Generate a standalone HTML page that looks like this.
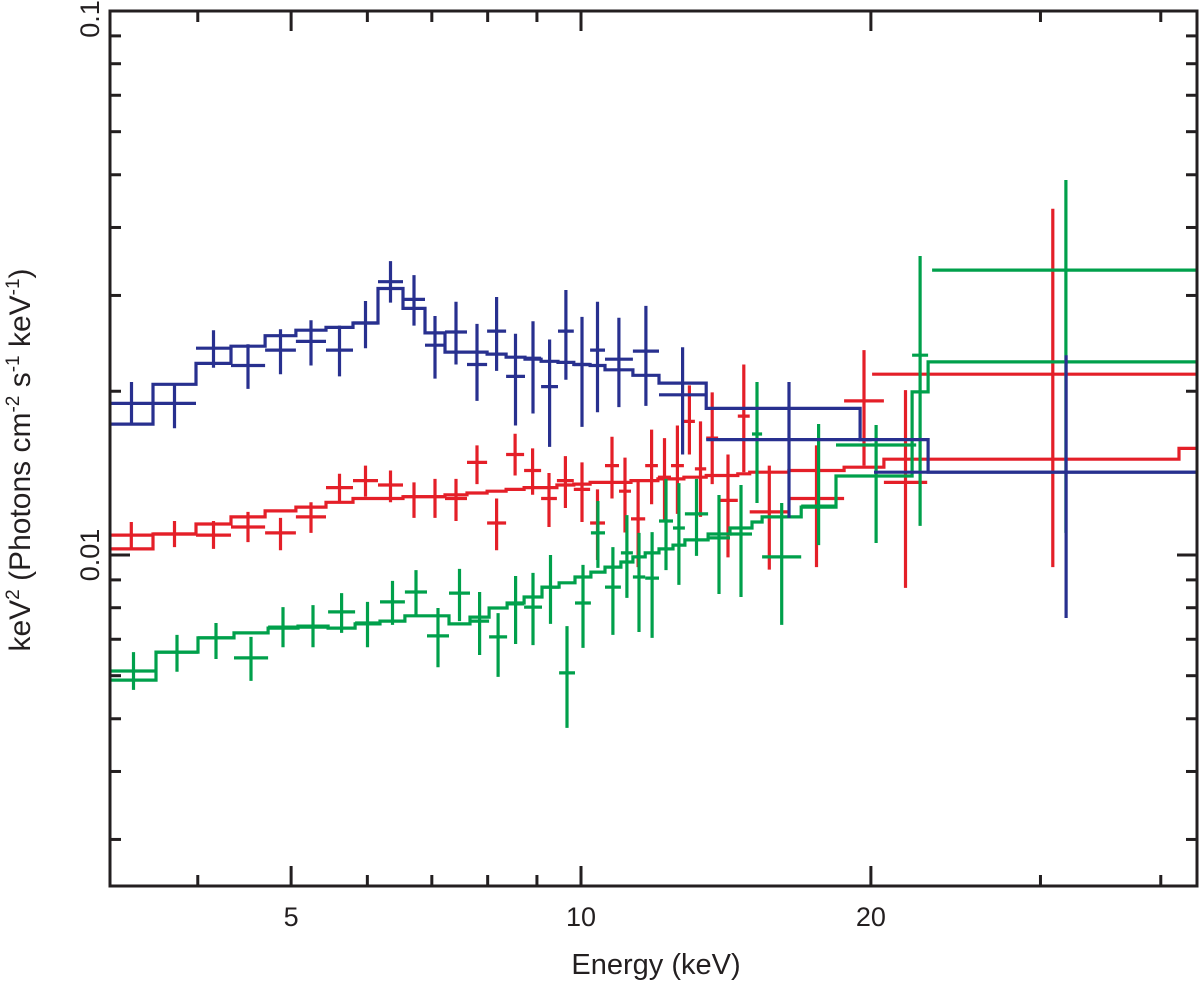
<!DOCTYPE html>
<html><head><meta charset="utf-8">
<style>
html,body{margin:0;padding:0;background:#fff;}
svg{display:block;font-family:"Liberation Sans",Arial,sans-serif;}
</style></head>
<body>
<svg id="chart" width="1200" height="981" viewBox="0 0 1200 981" xmlns="http://www.w3.org/2000/svg">
<defs><clipPath id="plotclip"><rect x="110" y="11" width="1087" height="875"/></clipPath></defs>
<g id="marks" clip-path="url(#plotclip)"></g>
<g id="axes"></g>
<text x="656" y="974" font-size="29" text-anchor="middle" fill="#231f20">Energy (keV)</text>
<text transform="translate(30,460) rotate(-90)" font-size="30" text-anchor="middle" fill="#231f20">keV<tspan font-size="19" dy="-11">2</tspan><tspan dy="11"> (Photons cm</tspan><tspan font-size="19" dy="-11">-2</tspan><tspan dy="11"> s</tspan><tspan font-size="19" dy="-11">-1</tspan><tspan dy="11"> keV</tspan><tspan font-size="19" dy="-11">-1</tspan><tspan dy="11">)</tspan></text>
</svg>
<script>
// ---- axis data ----
const xTickMajor = [5, 10, 20];
const xTickLabels = ["5", "10", "20"];
const xTickMinor = [4, 6, 7, 8, 9, 30, 40];
const yTickMajor = [0.1, 0.01];
const yTickLabels = ["0.1", "0.01"];
const yTickMinor = [0.09, 0.08, 0.07, 0.06, 0.05, 0.04, 0.03, 0.02, 0.009, 0.008, 0.007, 0.006, 0.005, 0.004, 0.003];

// ---- blue series ----
const blueLo = [3.243,3.594,3.983,4.331,4.698,5.058,5.435,5.798,6.154,6.533,6.887,7.224,7.614,7.989,8.36,8.746,9.09,9.465,9.83,10.22,10.59,11.32,12.05,13.49,20.15];
const blueHi = [3.594,3.983,4.331,4.698,5.058,5.435,5.798,6.154,6.533,6.887,7.224,7.614,7.989,8.36,8.746,9.09,9.465,9.83,10.22,10.59,11.32,12.05,13.49,20.04,50.5];
const blueVal = [0.0190,0.0190,0.0240,0.0223,0.0238,0.0247,0.0238,0.0267,0.0318,0.0295,0.0243,0.0257,0.0224,0.0258,0.0213,0.0230,0.0204,0.0258,0.0224,0.0238,0.0229,0.0237,0.0197,0.0163,0.0142];
const blueErrHi = [0.0208,0.0207,0.0259,0.0244,0.0260,0.0270,0.0264,0.0293,0.0347,0.0327,0.0275,0.0292,0.0266,0.0298,0.0255,0.0269,0.0249,0.0307,0.0274,0.0292,0.0273,0.0287,0.0241,0.0208,0.0233];
const blueErrLo = [0.0173,0.0171,0.0221,0.0202,0.0215,0.0223,0.0213,0.0240,0.0291,0.0264,0.0211,0.0224,0.0192,0.0218,0.0173,0.0182,0.0158,0.0210,0.0172,0.0183,0.0187,0.0188,0.0153,0.0117,0.00766];
const blueModelEdges = [3.243,3.594,3.983,4.331,4.698,5.058,5.435,5.798,6.154,6.533,6.887,7.224,7.614,7.989,8.36,8.746,9.09,9.465,9.83,10.22,10.59,11.32,12.05,13.49,19.49,22.93,43.7];
const blueModelVal = [0.0174,0.0206,0.0225,0.0242,0.0253,0.0259,0.0262,0.0267,0.0309,0.0284,0.0256,0.0236,0.0236,0.0234,0.0231,0.0229,0.0227,0.0226,0.0224,0.0223,0.0219,0.0214,0.0207,0.0186,0.0163,0.0142];

// ---- red series ----
const redLo = [3.24,3.594,3.983,4.331,4.698,5.058,5.435,5.798,6.154,6.533,6.887,7.224,7.614,7.989,8.36,8.727,9.09,9.44,9.83,10.22,10.59,10.95,11.27,11.66,12.02,12.40,12.79,13.13,13.49,13.88,14.55,14.97,16.44,18.76,20.63,20.06];
const redHi = [3.594,3.983,4.331,4.698,5.058,5.435,5.798,6.154,6.533,6.887,7.224,7.614,7.989,8.36,8.727,9.09,9.44,9.83,10.22,10.59,10.95,11.27,11.66,12.02,12.40,12.79,13.13,13.49,13.88,14.55,14.97,16.44,18.76,20.63,22.88,47.6];
const redVal = [0.01088,0.01093,0.01088,0.01126,0.01098,0.01175,0.0133,0.0137,0.01345,0.0128,0.0128,0.0127,0.0148,0.01145,0.0153,0.0143,0.0127,0.0137,0.0132,0.01145,0.0146,0.0131,0.01165,0.0146,0.0139,0.0146,0.0176,0.0144,0.0164,0.0126,0.0180,0.0120,0.0127,0.0192,0.0136,0.0215];
const redErrHi = [0.0115,0.01155,0.01155,0.0120,0.0117,0.0125,0.0141,0.0146,0.0143,0.0136,0.0138,0.0138,0.0159,0.0127,0.0167,0.0157,0.01415,0.0152,0.0148,0.0132,0.0165,0.0151,0.0137,0.0170,0.0164,0.0173,0.0205,0.0176,0.0199,0.0153,0.0224,0.0146,0.0159,0.0238,0.0201,0.0433];
const redErrLo = [0.0103,0.01034,0.01026,0.01056,0.0102,0.01098,0.0125,0.0128,0.0125,0.0117,0.0117,0.01155,0.0135,0.0102,0.0140,0.0129,0.01126,0.0122,0.0115,0.00979,0.0127,0.0110,0.0095,0.0124,0.0116,0.0119,0.0153,0.01175,0.0135,0.0099,0.0142,0.0094,0.0095,0.0146,0.0087,0.0095];
const redModelEdges = [3.24,3.594,3.983,4.331,4.698,5.058,5.435,5.798,6.154,6.533,6.887,7.224,7.614,7.989,8.36,8.727,9.09,9.44,9.83,10.22,10.59,10.95,11.27,11.66,12.02,12.40,12.79,13.13,13.49,13.88,14.55,14.97,16.44,18.76,20.63,41.78,43.7];
const redModelVal = [0.01026,0.01093,0.0114,0.01175,0.01205,0.01225,0.0125,0.0127,0.0127,0.0128,0.0128,0.0129,0.0130,0.0131,0.0132,0.0133,0.0133,0.01345,0.0135,0.0136,0.0136,0.0136,0.0137,0.0137,0.0138,0.0138,0.0139,0.0139,0.0140,0.0140,0.0141,0.0142,0.0143,0.0145,0.0150,0.0157];

// ---- green series ----
const greenLo = [3.25,3.62,4.002,4.362,4.732,5.083,5.462,5.826,6.184,6.564,6.92,7.294,7.669,8.028,8.381,8.727,9.11,9.489,9.858,10.24,10.59,11.00,11.32,11.66,12.05,12.46,12.82,13.55,14.28,15.05,15.42,16.93,18.40,22.07,23.15];
const greenHi = [3.62,4.002,4.362,4.732,5.083,5.462,5.826,6.184,6.564,6.92,7.294,7.669,8.028,8.381,8.727,9.11,9.489,9.858,10.24,10.59,11.00,11.32,11.66,12.05,12.46,12.82,13.55,14.28,15.05,15.42,16.93,18.40,22.29,22.93,43.9];
const greenVal = [0.00612,0.00663,0.00704,0.00647,0.00737,0.00737,0.00786,0.0075,0.0082,0.00855,0.0071,0.00851,0.00756,0.00707,0.00813,0.00802,0.00873,0.00607,0.00816,0.01098,0.00873,0.01009,0.00911,0.00907,0.01155,0.01121,0.0119,0.01075,0.01093,0.01669,0.00992,0.0123,0.01593,0.0233,0.0334];
const greenErrHi = [0.00663,0.00713,0.0075,0.00707,0.00802,0.00809,0.00851,0.0082,0.00896,0.00938,0.00799,0.00943,0.00855,0.00782,0.00915,0.00927,0.0100,0.0074,0.00959,0.01257,0.01034,0.01184,0.01098,0.01102,0.0138,0.01356,0.0138,0.01289,0.01345,0.0208,0.01246,0.01741,0.01734,0.03545,0.0489];
const greenErrLo = [0.00565,0.0061,0.00644,0.00587,0.00677,0.00677,0.00719,0.00677,0.00744,0.00776,0.00622,0.00756,0.00655,0.00597,0.00686,0.00683,0.00747,0.00481,0.00675,0.00947,0.00713,0.00834,0.00722,0.00704,0.00938,0.00881,0.00996,0.00848,0.00837,0.01246,0.00744,0.01043,0.01052,0.01131,0.01098];
const greenModelEdges = [3.25,3.62,4.002,4.362,4.732,5.083,5.462,5.826,6.184,6.564,6.92,7.294,7.669,8.028,8.381,8.727,9.11,9.489,9.858,10.24,10.59,11.00,11.32,11.66,12.05,12.46,12.82,13.55,14.28,15.05,15.42,16.93,18.40,22.07,22.93,43.7];
const greenModelVal = [0.00589,0.00663,0.00704,0.00719,0.00734,0.0074,0.00734,0.00747,0.00756,0.00773,0.00773,0.00747,0.00769,0.00799,0.00816,0.00837,0.00873,0.00889,0.00911,0.0093,0.0095,0.00971,0.00992,0.01009,0.01026,0.01043,0.01066,0.01093,0.01121,0.0115,0.01175,0.01225,0.01397,0.01994,0.02264];

// ---- axis functions ----
const PL = 110, PT = 11, PR = 1197, PB = 886;
const X10 = 581, XDEC = 963;
const Y01 = 11, YDEC = 544;
function xScale(e) { return X10 + XDEC * Math.log10(e / 10); }
function yScale(v) { return Y01 + YDEC * Math.log10(0.1 / v); }

const NS = "http://www.w3.org/2000/svg";
const marks = document.getElementById("marks");
const axes = document.getElementById("axes");
function mk(tag, attrs, parent) {
  const el = document.createElementNS(NS, tag);
  for (const k in attrs) el.setAttribute(k, attrs[k]);
  parent.appendChild(el);
  return el;
}

function drawSeries(name, color, lo, hi, val, eHi, eLo, mEdges, mVal) {
  const g = mk("g", {}, marks);
  
  
  let d = "";
  for (let i = 0; i < mVal.length; i++) {
    const x0 = xScale(mEdges[i]), x1 = xScale(mEdges[i + 1]), y = yScale(mVal[i]);
    d += (i === 0 ? "M" : "L") + x0.toFixed(1) + "," + y.toFixed(1) + "L" + x1.toFixed(1) + "," + y.toFixed(1);
  }
  const model = mk("path", { d: d, fill: "none", stroke: color, "stroke-width": 3.2, "stroke-linejoin": "miter" }, g);
  
  
  for (let i = 0; i < val.length; i++) {
    const xc = xScale(Math.sqrt(lo[i] * hi[i]));
    const p = mk("path", {
      d: "M" + xScale(lo[i]).toFixed(1) + "," + yScale(val[i]).toFixed(1) + "H" + xScale(hi[i]).toFixed(1) +
         "M" + xc.toFixed(1) + "," + yScale(eHi[i]).toFixed(1) + "V" + yScale(eLo[i]).toFixed(1),
      stroke: color, "stroke-width": 3.2, fill: "none"
    }, g);
    
    
  }
}
drawSeries("red", "#e41f28", redLo, redHi, redVal, redErrHi, redErrLo, redModelEdges, redModelVal);
drawSeries("green", "#00a04b", greenLo, greenHi, greenVal, greenErrHi, greenErrLo, greenModelEdges, greenModelVal);
drawSeries("blue", "#28308f", blueLo, blueHi, blueVal, blueErrHi, blueErrLo, blueModelEdges, blueModelVal);

// ---- frame & ticks ----
const frame = mk("rect", { x: PL, y: PT, width: PR - PL, height: PB - PT, fill: "none", stroke: "#231f20", "stroke-width": 3 }, axes);


function tick(x1, y1, x2, y2, nm) {
  const t = mk("line", { x1: x1, y1: y1, x2: x2, y2: y2, stroke: "#231f20", "stroke-width": 3 }, axes);
  
  
}
xTickMajor.forEach(function (e) { const x = xScale(e); tick(x, PB, x, PB - 20, 'x-major-tick'); tick(x, PT, x, PT + 20, 'x-top-major-tick'); });
xTickMinor.forEach(function (e) { const x = xScale(e); tick(x, PB, x, PB - 11, 'x-minor-tick'); tick(x, PT, x, PT + 11, 'x-top-minor-tick'); });
yTickMajor.forEach(function (v) { const y = yScale(v); tick(PL, y, PL + 20, y, 'y-major-tick'); tick(PR, y, PR - 20, y, 'y-right-major-tick'); });
yTickMinor.forEach(function (v) { const y = yScale(v); tick(PL, y, PL + 11, y, 'y-minor-tick'); tick(PR, y, PR - 11, y, 'y-right-minor-tick'); });
xTickMajor.forEach(function (e, i) {
  const t = mk("text", { x: xScale(e), y: PB + 40, "font-size": 27, "text-anchor": "middle", fill: "#231f20" }, axes);
  t.textContent = xTickLabels[i];
  
  
});
yTickMajor.forEach(function (v, i) {
  const y = yScale(v);
  const t = mk("text", { x: 0, y: 0, "font-size": 27, "text-anchor": "middle", fill: "#231f20",
    transform: "translate(99," + Math.max(y, 19) + ") rotate(-90)" }, axes);
  t.textContent = yTickLabels[i];
  
  
});
</script>
</body></html>
